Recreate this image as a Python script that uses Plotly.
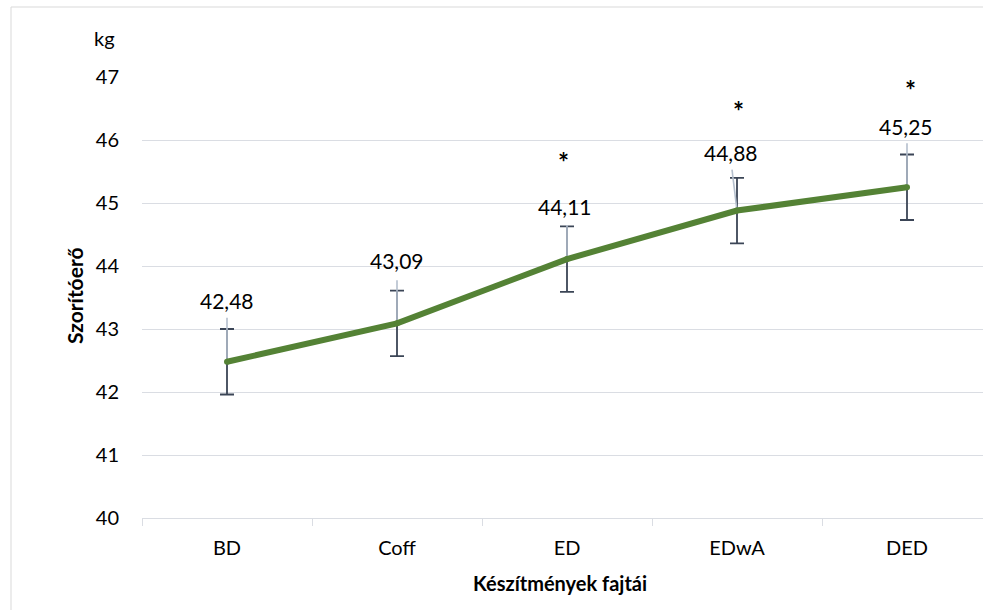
import plotly.graph_objects as go

# Grip strength by preparation type
categories = ["BD", "Coff", "ED", "EDwA", "DED"]
means = [42.48, 43.09, 44.11, 44.88, 45.25]
errors = [0.52, 0.52, 0.52, 0.52, 0.52]
significant = [False, False, True, True, True]
y_ticks = [40, 41, 42, 43, 44, 45, 46, 47]

# layout geometry (pixels)
W, H = 983, 610
M_L, M_R, M_T, M_B = 142, 0, 77, 92
PX_PER_CAT = 170.0
PX_PER_KG = (H - M_T - M_B) / (y_ticks[-1] - y_ticks[0])

# label placement relative to each point, in pixels (dx, dy up)
label_offsets = [(0, 61), (0, 63), (-2, 53), (-6, 58), (-1, 61)]
leader_offsets = [(0, 44), (0, 43), (0, 34), (-5, 41), (0, 44)]
star_offsets = [(0, 0), (0, 0), (-4, 97), (1, 100), (3, 97)]

FONT = "Lato"
GREEN = "#548235"
ERR = "#3b4556"
LEADER = "#b4bfcd"
GRID = "#dadde3"

xs = list(range(len(categories)))
x_max = -0.5 + (W - M_L - M_R) / PX_PER_CAT

fig = go.Figure()

# error bars
fig.add_trace(go.Scatter(
    x=xs, y=means, mode="markers",
    marker=dict(size=1, color="rgba(0,0,0,0)"),
    error_y=dict(type="data", array=errors, color=ERR, thickness=1.8, width=7),
    hoverinfo="skip", showlegend=False,
))

# leader lines from data labels to the points
for x, v, (dx, dy) in zip(xs, means, leader_offsets):
    fig.add_trace(go.Scatter(
        x=[x, x + dx / PX_PER_CAT], y=[v, v + dy / PX_PER_KG],
        mode="lines", line=dict(color=LEADER, width=1.6),
        hoverinfo="skip", showlegend=False,
    ))

# mean line
fig.add_trace(go.Scatter(
    x=xs, y=means, mode="lines+markers",
    line=dict(color=GREEN, width=6),
    marker=dict(size=6, color=GREEN),
    showlegend=False,
))

annotations = []
for x, v, (dx, dy) in zip(xs, means, label_offsets):
    annotations.append(dict(
        x=x, y=v, xref="x", yref="y", text=f"{v:.2f}".replace(".", ","),
        showarrow=False, xshift=dx, yshift=dy, xanchor="center", yanchor="middle",
        font=dict(family=FONT, size=21, color="#000000"),
    ))
for x, v, sig, (dx, dy) in zip(xs, means, significant, star_offsets):
    if sig:
        annotations.append(dict(
            x=x, y=v, xref="x", yref="y", text="<b>*</b>",
            showarrow=False, xshift=dx, yshift=dy, xanchor="center", yanchor="middle",
            font=dict(family=FONT, size=26, color="#000000"),
        ))

plot_w = W - M_L - M_R
plot_h = H - M_T - M_B
annotations += [
    dict(x=(560 - M_L) / plot_w, y=(M_T + plot_h - 583) / plot_h, xref="paper", yref="paper",
         text="<b>Készítmények fajtái</b>", showarrow=False,
         xanchor="center", yanchor="middle",
         font=dict(family=FONT, size=20, color="#000000")),
    dict(x=(74 - M_L) / plot_w, y=(M_T + plot_h - 296) / plot_h, xref="paper", yref="paper",
         text="<b>Szorítóerő</b>", showarrow=False, textangle=-90,
         xanchor="center", yanchor="middle",
         font=dict(family=FONT, size=21, color="#000000")),
    dict(x=(104 - M_L) / plot_w, y=(M_T + plot_h - 38) / plot_h, xref="paper", yref="paper",
         text="kg", showarrow=False, xanchor="center", yanchor="middle",
         font=dict(family=FONT, size=20, color="#000000")),
]

fig.update_layout(
    width=W, height=H,
    margin=dict(l=M_L, r=M_R, t=M_T, b=M_B),
    paper_bgcolor="white", plot_bgcolor="white",
    annotations=annotations,
    shapes=[dict(type="rect", xref="paper", yref="paper",
                 x0=(11 - M_L) / plot_w, x1=1.2,
                 y0=-0.5, y1=(M_T + plot_h - 7) / plot_h,
                 line=dict(color="#d9d9d9", width=1), fillcolor="rgba(0,0,0,0)",
                 layer="below")],
    xaxis=dict(
        range=[-0.5, x_max], tickmode="array", tickvals=xs, ticktext=categories,
        ticks="", showgrid=False, zeroline=False,
        showline=True, linecolor=GRID, linewidth=1,
        minor=dict(ticks="outside", tick0=-0.5, dtick=1, ticklen=7, tickcolor=GRID, showgrid=False),
        ticklabelstandoff=12,
        tickfont=dict(family=FONT, size=20, color="#000000"),
    ),
    yaxis=dict(
        range=[y_ticks[0], y_ticks[-1]], tickmode="array", tickvals=y_ticks,
        showgrid=True, gridcolor=GRID, gridwidth=1, zeroline=False, showline=False,
        ticks="", ticklabelstandoff=22,
        tickfont=dict(family=FONT, size=20, color="#000000"),
    ),
)

fig.write_html("out.html")
